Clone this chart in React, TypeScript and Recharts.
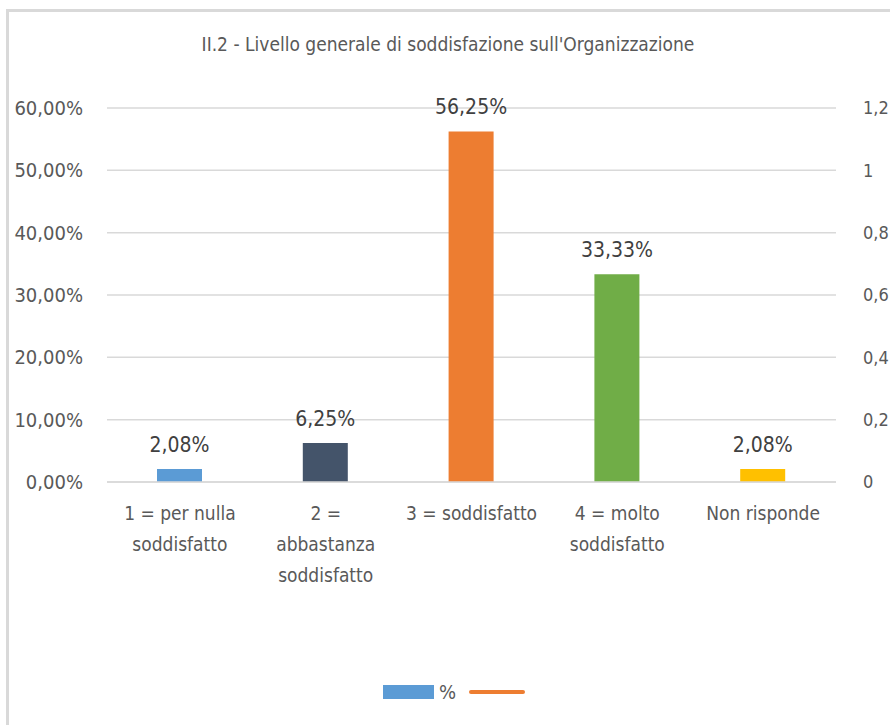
import { ComposedChart, Bar, Line, XAxis, YAxis, CartesianGrid, Legend, LabelList, Cell } from 'recharts'

// ─── Data ─────────────────────────────────────────────────────────────────────

const categories = [
  '1 = per nulla|soddisfatto',
  '2 =|abbastanza|soddisfatto',
  '3 = soddisfatto',
  '4 = molto|soddisfatto',
  'Non risponde',
]
const percentValues = [2.08, 6.25, 56.25, 33.33, 2.08]
const barColors = ['#5b9bd5', '#44546a', '#ed7d31', '#70ad47', '#ffc000']
const leftTicks = [0, 10, 20, 30, 40, 50, 60]
const rightTicks = [0, 0.2, 0.4, 0.6, 0.8, 1, 1.2]

const chartData = categories.map((name, i) => ({ name, pct: percentValues[i], line: null }))

const FONT = '"DejaVu Sans Condensed", Calibri, sans-serif'
const TEXT = '#595959'

// ─── Helpers ──────────────────────────────────────────────────────────────────

const fmtPct = (v: number) => v.toFixed(2).replace('.', ',') + '%'
const fmtNum = (v: number) => String(Math.round(v * 10) / 10).replace('.', ',')

function CategoryTick({ x, y, payload }: { x?: number; y?: number; payload?: { value: string } }) {
  const lines = (payload?.value ?? '').split('|')
  return (
    <text x={x} y={y} textAnchor="middle" fill={TEXT} fontSize={19} fontFamily={FONT}>
      {lines.map((l, i) => (
        <tspan key={i} x={x} dy={i === 0 ? 30 : 31}>{l}</tspan>
      ))}
    </text>
  )
}

function LegendContent() {
  return (
    <div style={{ display: 'flex', justifyContent: 'center', alignItems: 'center', fontFamily: FONT, fontSize: 20, color: TEXT, paddingLeft: 18 }}>
      <span style={{ display: 'inline-block', width: 51, height: 14, background: '#5b9bd5', marginRight: 5 }} />
      <span style={{ marginRight: 13 }}>%</span>
      <span style={{ display: 'inline-block', width: 56, height: 4, borderRadius: 2, background: '#ed7d31' }} />
    </div>
  )
}

// ─── Component ────────────────────────────────────────────────────────────────

export default function App() {
  return (
    <div style={{ position: 'absolute', left: 0, top: 0, width: 890, height: 725, background: '#fff', overflow: 'hidden' }}>
      <div style={{ position: 'absolute', left: 6, top: 9, width: 900, height: 800, borderLeft: '3px solid #d9d9d9', borderTop: '3px solid #d9d9d9' }} />
      <div style={{ position: 'absolute', left: 0, top: 33, width: 896, textAlign: 'center', fontFamily: FONT, fontSize: 19, color: TEXT }}>
        II.2 - Livello generale di soddisfazione sull'Organizzazione
      </div>
      <div style={{ position: 'absolute', left: 0, top: 0 }}>
        <ComposedChart width={890} height={725} data={chartData} margin={{ top: 108, right: 0, bottom: 69, left: 0 }}>
          <CartesianGrid vertical={false} stroke="#d9d9d9" strokeWidth={1.5} yAxisId="left" />
          <XAxis
            dataKey="name"
            axisLine={{ stroke: '#d9d9d9', strokeWidth: 1.5 }}
            tickLine={false}
            interval={0}
            height={150}
            tick={<CategoryTick />}
          />
          <YAxis
            yAxisId="left"
            domain={[0, 60]}
            ticks={leftTicks}
            tickFormatter={fmtPct}
            axisLine={false}
            tickLine={false}
            width={107}
            tickMargin={18}
            tick={{ fill: TEXT, fontSize: 20, fontFamily: FONT }}
          />
          <YAxis
            yAxisId="right"
            orientation="right"
            domain={[0, 1.2]}
            allowDataOverflow
            ticks={rightTicks}
            tickFormatter={fmtNum}
            axisLine={false}
            tickLine={false}
            width={54}
            tickMargin={21}
            tick={{ fill: TEXT, fontSize: 18, fontFamily: FONT, textAnchor: 'start' }}
          />
          <Bar yAxisId="left" dataKey="pct" name="%" barSize={45} isAnimationActive={false}>
            {chartData.map((_, i) => (
              <Cell key={i} fill={barColors[i]} />
            ))}
            <LabelList dataKey="pct" position="top" offset={17} formatter={(v: number) => fmtPct(v)} fill="#404040" fontSize={21} fontFamily={FONT} />
          </Bar>
          <Line yAxisId="right" dataKey="line" name="" stroke="#ed7d31" strokeWidth={3} dot={false} isAnimationActive={false} />
          <Legend content={<LegendContent />} wrapperStyle={{ position: 'absolute', top: 680, left: 0, width: 890, height: 24 }} />
        </ComposedChart>
      </div>
    </div>
  )
}
